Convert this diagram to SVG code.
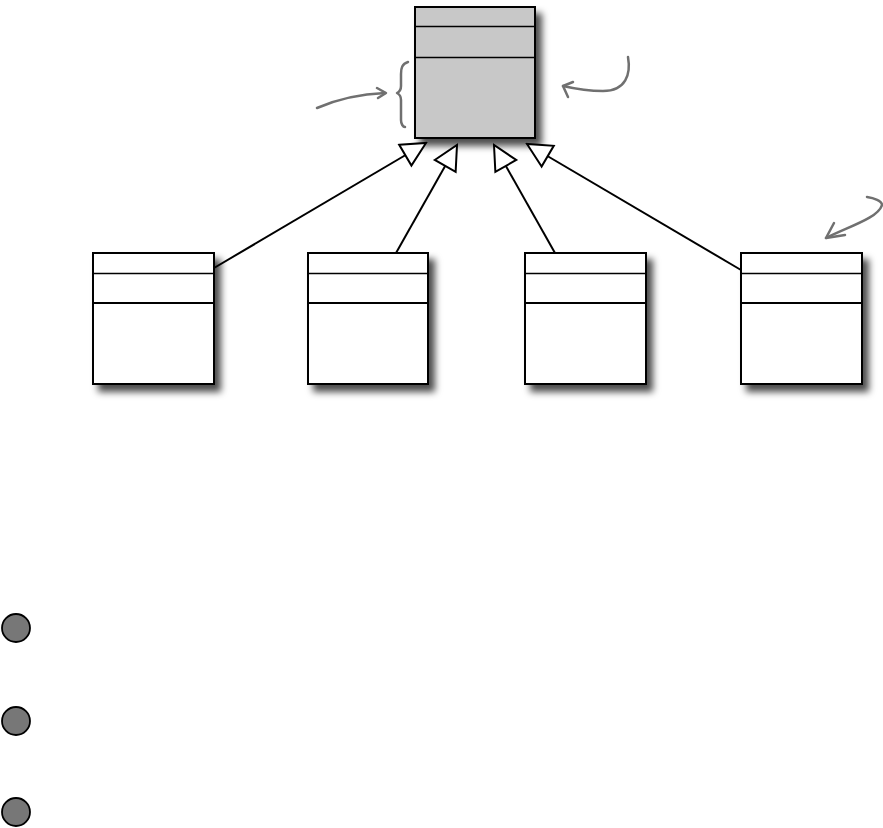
<svg xmlns="http://www.w3.org/2000/svg" width="883" height="828" viewBox="0 0 883 828">
<style>
.box{stroke:#000;stroke-width:2}
.div1{stroke:#000;stroke-width:1.5}
.div2{stroke:#000;stroke-width:2.2}
.conn{stroke:#000;stroke-width:2;fill:none}
.note{stroke:#707070;stroke-width:2.5;fill:none;stroke-linecap:round;stroke-linejoin:round}
.dot{fill:#777;stroke:#000;stroke-width:1.8}
</style>
<defs>
<filter id="sh" x="-20%" y="-20%" width="150%" height="150%">
<feDropShadow dx="6" dy="7" stdDeviation="3.5" flood-color="#000" flood-opacity="0.7"/>
</filter>
<marker id="tri" viewBox="0 0 28 28" refX="26" refY="14" markerWidth="28" markerHeight="28" markerUnits="userSpaceOnUse" orient="auto">
<path d="M2,2 L26,14 L2,26 Z" fill="#fff" stroke="#000" stroke-width="2" stroke-linejoin="miter"/>
</marker>
</defs>
<rect width="883" height="828" fill="#fff"/>

<g id="parent">
<rect class="box" x="415" y="7" width="120" height="131" fill="#c8c8c8" filter="url(#sh)"/>
<line class="div1" x1="415" y1="26.5" x2="535" y2="26.5"/>
<line class="div1" x1="415" y1="57.5" x2="535" y2="57.5"/>
</g>

<g id="child1">
<rect class="box" x="93" y="253" width="121" height="131" fill="#fff" filter="url(#sh)"/>
<line class="div1" x1="93" y1="273.5" x2="214" y2="273.5"/>
<line class="div2" x1="93" y1="303" x2="214" y2="303"/>
</g>
<g id="child2">
<rect class="box" x="308" y="253" width="120" height="131" fill="#fff" filter="url(#sh)"/>
<line class="div1" x1="308" y1="273.5" x2="428" y2="273.5"/>
<line class="div2" x1="308" y1="303" x2="428" y2="303"/>
</g>
<g id="child3">
<rect class="box" x="525" y="253" width="121" height="131" fill="#fff" filter="url(#sh)"/>
<line class="div1" x1="525" y1="273.5" x2="646" y2="273.5"/>
<line class="div2" x1="525" y1="303" x2="646" y2="303"/>
</g>
<g id="child4">
<rect class="box" x="741" y="253" width="121" height="131" fill="#fff" filter="url(#sh)"/>
<line class="div1" x1="741" y1="273.5" x2="862" y2="273.5"/>
<line class="div2" x1="741" y1="303" x2="862" y2="303"/>
</g>

<g id="connectors">
<path class="conn" d="M214,268 L426,143" marker-end="url(#tri)"/>
<path class="conn" d="M396,253 L457,145" marker-end="url(#tri)"/>
<path class="conn" d="M555,253 L494,145" marker-end="url(#tri)"/>
<path class="conn" d="M741,270 L527,144" marker-end="url(#tri)"/>
</g>

<g id="annotations">
<path class="note" d="M317,108 C340,98 360,94 385,93"/>
<path class="note" d="M377,88 L386,93 L378,98"/>
<path class="note" d="M408,62 C402,64 401,68 401,74 L401,86 C401,90 399,92 397,93 C399,94 401,96 401,100 L401,120 C401,124 403,127 405,127"/>
<path class="note" d="M628,57 C631,74 626,91 603,91 C590,91 576,89 563,86"/>
<path class="note" d="M573,82 L563,86 L568,97"/>
<path class="note" d="M867,197 C874,198 882,201 882,205 C878,218 850,226 826,238"/>
<path class="note" d="M834,223 L826,238 L845,235"/>
</g>

<g id="bullets">
<circle class="dot" cx="16" cy="628" r="14"/>
<circle class="dot" cx="16" cy="721" r="14"/>
<circle class="dot" cx="16" cy="812" r="14"/>
</g>
</svg>
